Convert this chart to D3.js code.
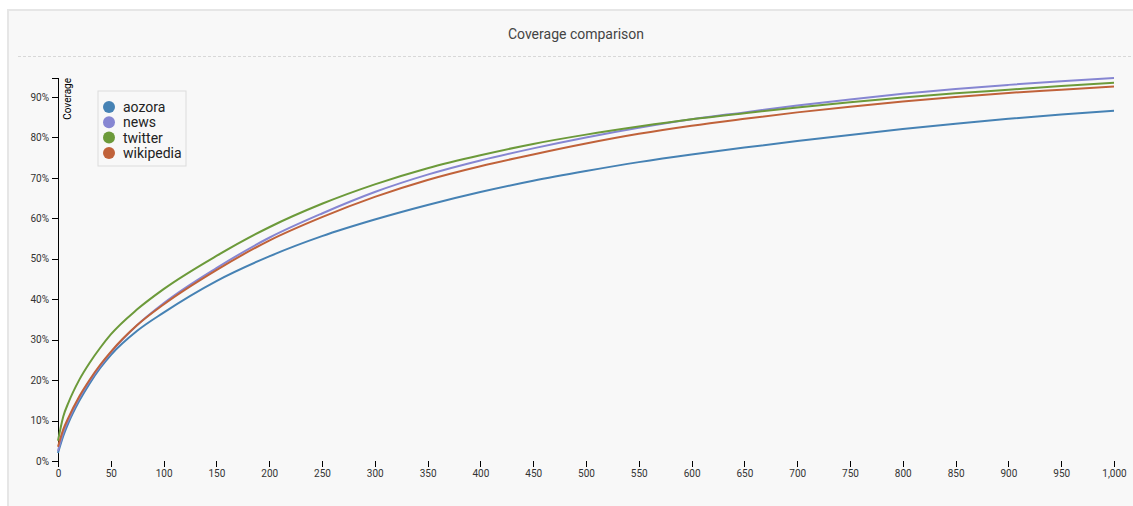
<!DOCTYPE html>
<html>
<head>
<meta charset="utf-8">
<script src="https://cdn.jsdelivr.net/npm/d3@7"></script>
<style>
  body { margin: 0; background: #fff; font-family: Roboto, sans-serif; }
  .axis text { font-family: Roboto, sans-serif; font-size: 10px; fill: #333; }
  .axis path, .axis line { fill: none; stroke: #000; shape-rendering: crispEdges; }
  .x.axis path { display: none; }
  .line { fill: none; stroke-width: 2px; }
</style>
</head>
<body>
<script>
// ranks (x) and coverage per corpus
var ranks = [0, 5, 10, 20, 30, 40, 50, 75, 100, 150, 200, 250, 300, 350, 400, 450, 500,
             550, 600, 650, 700, 750, 800, 850, 900, 950, 1000];

var aozora    = [0.020, 0.062, 0.095, 0.148, 0.192, 0.230, 0.262, 0.322, 0.367, 0.445, 0.506, 0.556, 0.597, 0.633, 0.665, 0.693, 0.717,
                 0.739, 0.758, 0.775, 0.791, 0.806, 0.821, 0.834, 0.846, 0.857, 0.866];
var news      = [0.025, 0.070, 0.102, 0.155, 0.198, 0.235, 0.268, 0.336, 0.390, 0.477, 0.552, 0.612, 0.665, 0.708, 0.743, 0.773, 0.800,
                 0.824, 0.845, 0.862, 0.879, 0.894, 0.908, 0.920, 0.930, 0.939, 0.947];
var twitter   = [0.050, 0.110, 0.145, 0.200, 0.243, 0.280, 0.313, 0.375, 0.425, 0.507, 0.578, 0.636, 0.684, 0.724, 0.756, 0.784, 0.807,
                 0.827, 0.845, 0.860, 0.874, 0.887, 0.899, 0.909, 0.918, 0.927, 0.935];
var wikipedia = [0.035, 0.078, 0.108, 0.159, 0.201, 0.238, 0.270, 0.336, 0.387, 0.472, 0.545, 0.603, 0.653, 0.695, 0.729, 0.758, 0.785,
                 0.809, 0.829, 0.846, 0.862, 0.876, 0.889, 0.900, 0.910, 0.918, 0.926];

var names  = ["aozora", "news", "twitter", "wikipedia"];
var colors = ["#4682b4", "#8686d2", "#6c9a3a", "#c0623a"];

var series = [aozora, news, twitter, wikipedia].map(function(vals, i) {
    return { name: names[i], values: vals.map(function(v, j) { return { x: ranks[j], y: v }; }) };
});

var W = 1133, H = 506;
var margin = { top: 78, left: 58 };
var width = 1056, height = 383;

var svg = d3.select("body").append("svg").attr("width", W).attr("height", H);

// panel
svg.append("rect").attr("x", 8).attr("y", 10).attr("width", W).attr("height", H)
    .attr("fill", "#f8f8f8").attr("stroke", "#e6e6e6").attr("stroke-width", 2);

svg.append("text")
    .attr("x", 576).attr("y", 39)
    .attr("text-anchor", "middle")
    .style("font-family", "Roboto, sans-serif").style("font-size", "14px").style("fill", "#444")
    .text("Coverage comparison");

svg.append("line").attr("x1", 18).attr("x2", W).attr("y1", 56.5).attr("y2", 56.5)
    .attr("stroke", "#d8d8d8").attr("stroke-dasharray", "3,2");

var g = svg.append("g").attr("transform", "translate(" + margin.left + "," + margin.top + ")");

var x = d3.scaleLinear().domain([0, 1000]).range([0, width]);
var y = d3.scaleLinear()
    .domain([0, d3.max(series, function(s) { return d3.max(s.values, function(d) { return d.y; }); })])
    .range([height, 0]);

var color = d3.scaleOrdinal().domain(names).range(colors);

g.append("g").attr("class", "x axis")
    .attr("transform", "translate(0," + height + ")")
    .call(d3.axisBottom(x).tickValues(d3.range(0, 1001, 50)).tickFormat(d3.format(",")));

var yAxis = g.append("g").attr("class", "y axis")
    .call(d3.axisLeft(y).tickValues(d3.range(0, 0.91, 0.1)).tickFormat(d3.format(".0%")));

yAxis.append("text")
    .attr("transform", "rotate(-90)")
    .attr("y", 6).attr("dy", ".71em")
    .style("text-anchor", "end")
    .style("font-size", "10px").style("fill", "#000")
    .text("Coverage");

var line = d3.line()
    .curve(d3.curveMonotoneX)
    .x(function(d) { return x(d.x); })
    .y(function(d) { return y(d.y); });

g.selectAll(".line")
    .data(series)
    .enter().append("path")
    .attr("class", "line")
    .attr("d", function(d) { return line(d.values); })
    .style("stroke", function(d) { return color(d.name); });

// legend
var legend = svg.append("g").attr("transform", "translate(98,91)");
legend.append("rect").attr("width", 88).attr("height", 75)
    .attr("fill", "#f8f8f8").attr("stroke", "#dcdcdc");

var items = legend.selectAll(".item")
    .data(names)
    .enter().append("g")
    .attr("transform", function(d, i) { return "translate(0," + (16 + i * 15.3) + ")"; });

items.append("circle").attr("cx", 11).attr("r", 6).attr("fill", function(d) { return color(d); });
items.append("text").attr("x", 25).attr("y", 5)
    .style("font-family", "Roboto, sans-serif").style("font-size", "14px").style("fill", "#222")
    .text(function(d) { return d; });
</script>
</body>
</html>
